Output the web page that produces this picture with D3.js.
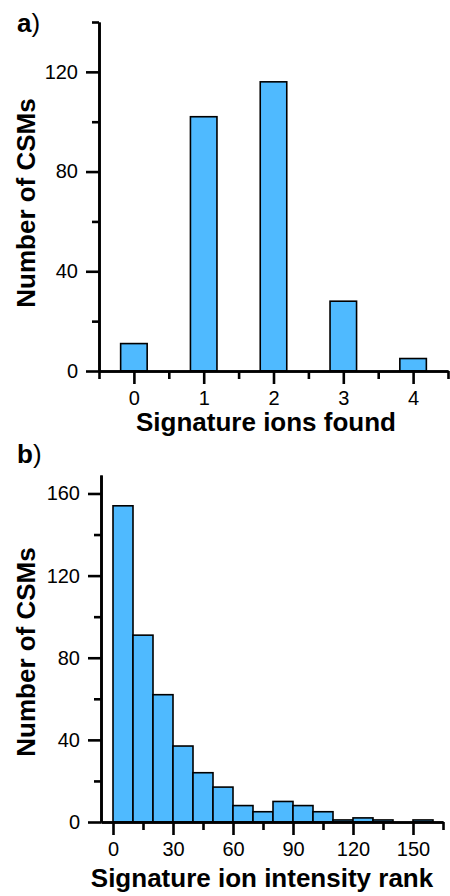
<!DOCTYPE html>
<html>
<head>
<meta charset="utf-8">
<script src="https://cdn.jsdelivr.net/npm/d3@7"></script>
<style>
  html, body { margin: 0; padding: 0; background: #fff; }
  svg { display: block; }
  text { font-family: "Liberation Sans", Arial, Helvetica, sans-serif; fill: #000; }
</style>
</head>
<body>
<svg id="chart" width="450" height="896"></svg>
<script>
// Panel a: number of signature ions found per CSM
const ionsFound = [0, 1, 2, 3, 4];
const ionsFoundCounts = [11, 102, 116, 28, 5];
const aYTicks = [0, 40, 80, 120];
const aYMinor = [20, 60, 100, 140];

// Panel b: histogram of signature ion intensity rank (bins of 10)
const rankBinStart = [0, 10, 20, 30, 40, 50, 60, 70, 80, 90, 100, 110, 120, 130, 140, 150];
const rankBinCounts = [154, 91, 62, 37, 24, 17, 8, 5, 10, 8, 5, 1, 2, 1, 0, 1];
const rankBinWidth = 10;
const bXTicks = [0, 30, 60, 90, 120, 150];
const bXMinor = [15, 45, 75, 105, 135, 165];
const bYTicks = [0, 40, 80, 120, 160];
const bYMinor = [20, 60, 100, 140];

const barFill = "#4FBAFF";
const svg = d3.select("#chart");

function styleAxis(g, width) {
  g.select(".domain").attr("stroke", "#000").attr("stroke-width", width);
  g.selectAll(".tick line").attr("stroke", "#000").attr("stroke-width", width);
  g.selectAll(".tick text").attr("font-size", 20).attr("fill", "#000")
    .style("font-family", '"Liberation Sans", Arial, sans-serif');
}

// ---------- Panel a ----------
{
  const x = d3.scaleLinear().domain([-0.5, 4.5]).range([99, 448]);
  const y = d3.scaleLinear().domain([0, 140]).range([371, 22]);
  const g = svg.append("g");

  g.selectAll("rect.bar").data(ionsFound).join("rect")
    .attr("class", "bar")
    .attr("x", d => x(d - 0.19))
    .attr("width", d => x(d + 0.19) - x(d - 0.19))
    .attr("y", (d, i) => y(ionsFoundCounts[i]))
    .attr("height", (d, i) => y(0) - y(ionsFoundCounts[i]))
    .attr("fill", barFill).attr("stroke", "#000").attr("stroke-width", 1.6);

  // minor ticks
  g.append("g").attr("transform", `translate(0,${y(0)})`)
    .call(d3.axisBottom(x).tickValues([-0.5, 0.5, 1.5, 2.5, 3.5, 4.5]).tickSize(8).tickFormat("").tickSizeOuter(0))
    .call(s => styleAxis(s, 2.6));
  g.append("g").attr("transform", `translate(${x(-0.5)},0)`)
    .call(d3.axisLeft(y).tickValues(aYMinor).tickSize(7).tickFormat("").tickSizeOuter(0))
    .call(s => styleAxis(s, 2.6));
  // major ticks
  g.append("g").attr("transform", `translate(0,${y(0)})`)
    .call(d3.axisBottom(x).tickValues(ionsFound).tickSize(13).tickPadding(7).tickFormat(d3.format("d")).tickSizeOuter(0))
    .call(s => styleAxis(s, 2.6));
  g.append("g").attr("transform", `translate(${x(-0.5)},0)`)
    .call(d3.axisLeft(y).tickValues(aYTicks).tickSize(13).tickPadding(8).tickFormat(d3.format("d")).tickSizeOuter(0))
    .call(s => styleAxis(s, 2.6));

  g.append("text").attr("x", 266).attr("y", 431).attr("text-anchor", "middle")
    .attr("font-size", 26).attr("font-weight", "bold").text("Signature ions found");
  g.append("text").attr("transform", "translate(35,203) rotate(-90)").attr("text-anchor", "middle")
    .attr("font-size", 26).attr("font-weight", "bold").text("Number of CSMs");
  const lab = g.append("text").attr("x", 17).attr("y", 32).attr("font-size", 26);
  lab.append("tspan").attr("font-weight", "bold").text("a");
  lab.append("tspan").text(")");
}

// ---------- Panel b ----------
{
  const x = d3.scaleLinear().domain([-6, 165]).range([101, 443]);
  const y = d3.scaleLinear().domain([0, 169]).range([822, 475]);
  const g = svg.append("g");

  g.selectAll("rect.bar").data(rankBinStart).join("rect")
    .attr("class", "bar")
    .attr("x", d => x(d))
    .attr("width", d => x(d + rankBinWidth) - x(d))
    .attr("y", (d, i) => y(rankBinCounts[i]))
    .attr("height", (d, i) => y(0) - y(rankBinCounts[i]))
    .attr("fill", barFill).attr("stroke", "#000").attr("stroke-width", 1.6);

  g.append("g").attr("transform", `translate(0,${y(0)})`)
    .call(d3.axisBottom(x).tickValues(bXMinor).tickSize(8).tickFormat("").tickSizeOuter(0))
    .call(s => styleAxis(s, 2.6));
  g.append("g").attr("transform", `translate(${x(-6)},0)`)
    .call(d3.axisLeft(y).tickValues(bYMinor).tickSize(7).tickFormat("").tickSizeOuter(0))
    .call(s => styleAxis(s, 2.6));
  g.append("g").attr("transform", `translate(0,${y(0)})`)
    .call(d3.axisBottom(x).tickValues(bXTicks).tickSize(13).tickPadding(7).tickFormat(d3.format("d")).tickSizeOuter(0))
    .call(s => styleAxis(s, 2.6));
  g.append("g").attr("transform", `translate(${x(-6)},0)`)
    .call(d3.axisLeft(y).tickValues(bYTicks).tickSize(13).tickPadding(8).tickFormat(d3.format("d")).tickSizeOuter(0))
    .call(s => styleAxis(s, 2.6));

  g.append("text").attr("x", 262).attr("y", 887).attr("text-anchor", "middle")
    .attr("font-size", 26).attr("font-weight", "bold").text("Signature ion intensity rank");
  g.append("text").attr("transform", "translate(35,652) rotate(-90)").attr("text-anchor", "middle")
    .attr("font-size", 26).attr("font-weight", "bold").text("Number of CSMs");
  const lab = g.append("text").attr("x", 17).attr("y", 463).attr("font-size", 26);
  lab.append("tspan").attr("font-weight", "bold").text("b");
  lab.append("tspan").text(")");
}
</script>
</body>
</html>
